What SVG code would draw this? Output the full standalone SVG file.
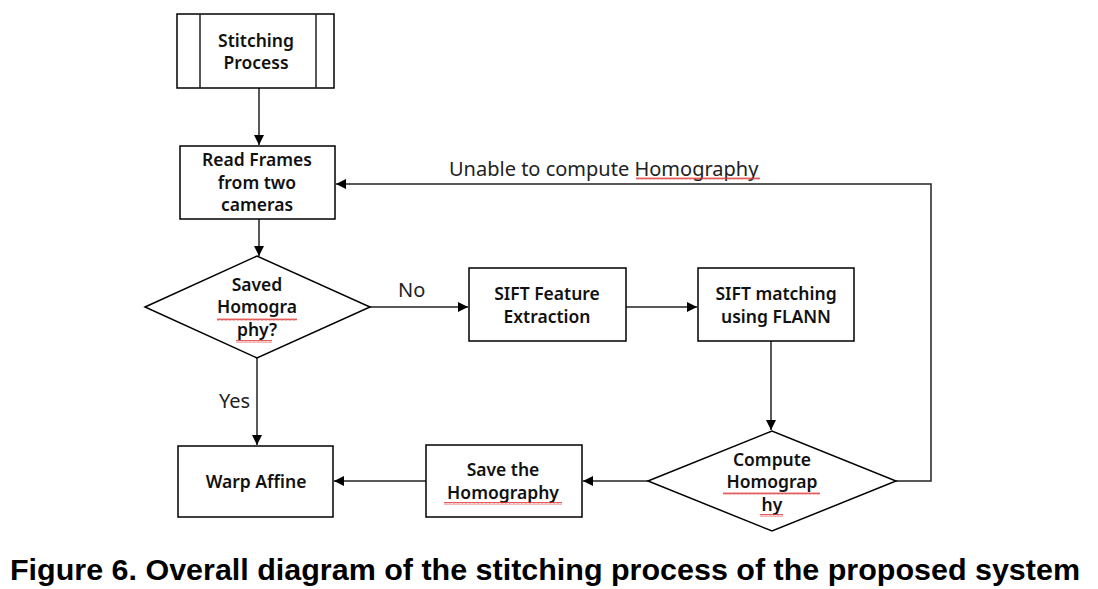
<svg xmlns="http://www.w3.org/2000/svg" width="1098" height="589" viewBox="0 0 1098 589">
<style>
.box{fill:#fff;stroke:#000;stroke-width:1.5}
.t{font-family:"Noto Sans","Open Sans",sans-serif;font-weight:600;font-size:17.5px;fill:#111;text-anchor:middle}
.lbl{font-family:"Noto Sans","Open Sans",sans-serif;font-size:20px;fill:#222}
.c{fill:none;stroke:#222;stroke-width:1.5}
.cap{font-family:"Liberation Sans",Arial,sans-serif;font-weight:bold;font-size:29px;fill:#000}
.sq{fill:url(#wave)}
</style>
<defs>
<marker id="ah" viewBox="0 0 10 10" refX="10" refY="5" markerWidth="10" markerHeight="10" markerUnits="userSpaceOnUse" orient="auto">
<path d="M0,0 L10,5 L0,10 z" fill="#000"/>
</marker>
<pattern id="wave" width="4" height="3" patternUnits="userSpaceOnUse">
<path d="M0,2.5 L1,0.5 L2,2.5 L3,0.5 L4,2.5" fill="none" stroke="#d33" stroke-width="0.8"/>
</pattern>
</defs>
<g id="connectors">
<path class="c" d="M259,88 V145" marker-end="url(#ah)"/>
<path class="c" d="M259,219 V256" marker-end="url(#ah)"/>
<path class="c" d="M370,307 H468" marker-end="url(#ah)"/>
<path class="c" d="M626,307 H697" marker-end="url(#ah)"/>
<path class="c" d="M771,341 V430" marker-end="url(#ah)"/>
<path class="c" d="M896,481 H931 V184 H336" marker-end="url(#ah)"/>
<path class="c" d="M648,481 H583" marker-end="url(#ah)"/>
<path class="c" d="M426,481 H334" marker-end="url(#ah)"/>
<path class="c" d="M257,358 V445" marker-end="url(#ah)"/>
<text class="lbl" x="398" y="297">No</text>
<text class="lbl" x="219" y="408">Yes</text>
<text class="lbl" x="449" y="176">Unable to compute Homography</text>
<rect class="sq" x="636" y="177" width="124" height="3"/>
</g>
<g id="stitching">
<rect class="box" x="177" y="14" width="157" height="74"/>
<path class="c" d="M200,14 V88 M316,14 V88"/>
<text class="t" x="256" y="47">Stitching</text>
<text class="t" x="256" y="69">Process</text>
</g>
<g id="read">
<rect class="box" x="180" y="146" width="155" height="73"/>
<text class="t" x="257" y="166">Read Frames</text>
<text class="t" x="257" y="189">from two</text>
<text class="t" x="257" y="211">cameras</text>
</g>
<g id="saved">
<path class="box" d="M145,307 L257,256 L370,307 L257,358 z"/>
<text class="t" x="257" y="291">Saved</text>
<text class="t" x="257" y="313">Homogra</text>
<text class="t" x="257" y="336">phy?</text>
<rect class="sq" x="217" y="318" width="80" height="3"/>
<rect class="sq" x="236" y="340" width="36" height="3"/>
</g>
<g id="sift">
<rect class="box" x="469" y="268" width="157" height="73"/>
<text class="t" x="547" y="300">SIFT Feature</text>
<text class="t" x="547" y="323">Extraction</text>
</g>
<g id="match">
<rect class="box" x="698" y="268" width="156" height="73"/>
<text class="t" x="776" y="300">SIFT matching</text>
<text class="t" x="776" y="323">using FLANN</text>
</g>
<g id="compute">
<path class="box" d="M648,481 L772,431 L896,481 L772,531 z"/>
<text class="t" x="772" y="466">Compute</text>
<text class="t" x="772" y="488">Homograp</text>
<text class="t" x="772" y="511">hy</text>
<rect class="sq" x="723" y="492" width="97" height="3"/>
<rect class="sq" x="760" y="514" width="23" height="3"/>
</g>
<g id="save">
<rect class="box" x="426" y="445" width="156" height="72"/>
<text class="t" x="503" y="476">Save the</text>
<text class="t" x="503" y="499">Homography</text>
<rect class="sq" x="444" y="502" width="118" height="3"/>
</g>
<g id="warp">
<rect class="box" x="178" y="446" width="155" height="71"/>
<text class="t" x="256" y="488">Warp Affine</text>
</g>
<text class="cap" x="10" y="580" textLength="1070" lengthAdjust="spacingAndGlyphs">Figure 6. Overall diagram of the stitching process of the proposed system</text>
</svg>
